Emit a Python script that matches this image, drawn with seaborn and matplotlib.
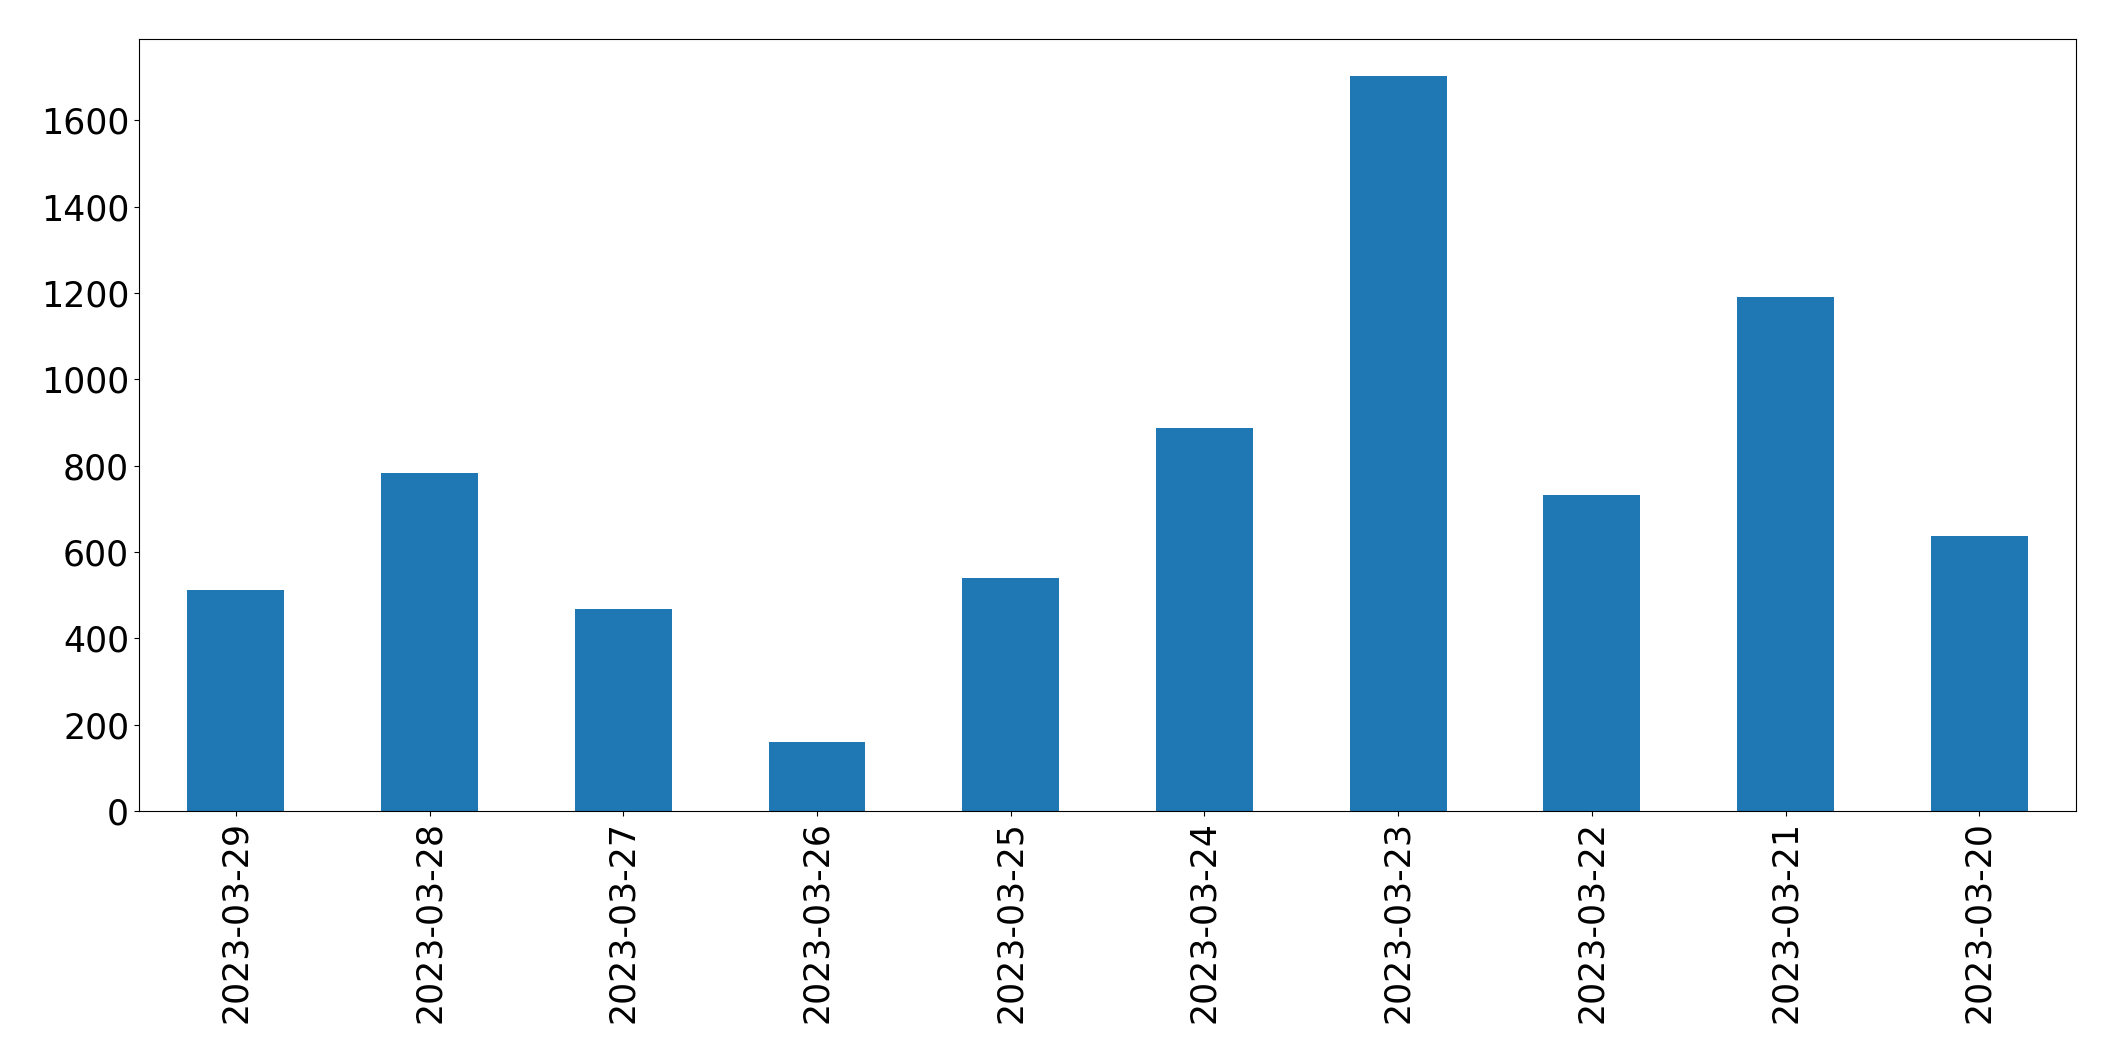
#importing libraries
import numpy as np
import pandas as pd
import seaborn as sns
import matplotlib
matplotlib.use('Agg')
import matplotlib.pyplot as plt

#daily counts (newest first)
dates = ['2023-03-29', '2023-03-28', '2023-03-27', '2023-03-26', '2023-03-25',
         '2023-03-24', '2023-03-23', '2023-03-22', '2023-03-21', '2023-03-20']
counts = [512, 783, 469, 159, 539, 888, 1703, 732, 1190, 638]

df = pd.DataFrame({'date': dates, 'count': counts})

fig, ax = plt.subplots(figsize=(21.15, 10.61), dpi=100)
sns.barplot(data=df, x='date', y='count', color='#1f77b4', saturation=1,
            width=0.5, ax=ax)

ax.set_xlabel('')
ax.set_ylabel('')
ax.tick_params(axis='both', labelsize=25)
plt.xticks(rotation=90)

plt.subplots_adjust(left=0.0657, right=0.9816, top=0.9632, bottom=0.2356)
plt.savefig('out.png', dpi=100)
